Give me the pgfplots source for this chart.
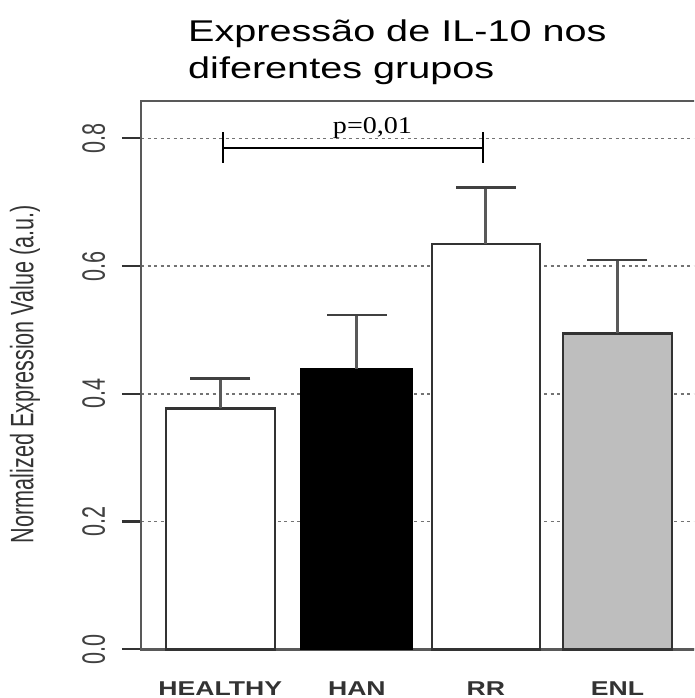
\documentclass[border=0pt]{standalone}
\usepackage{pgfplots}
\pgfplotsset{compat=1.18}
\usepackage{fontspec}
\setmainfont{Liberation Sans}
\newfontfamily\timesf{Liberation Serif}
\definecolor{barGray}{RGB}{190,190,190}
\begin{document}
\begin{tikzpicture}
\path[use as bounding box] (0pt,0pt) rectangle (694pt,698pt);
\clip (0pt,0pt) rectangle (694pt,698pt);
\node[anchor=base west, inner sep=0] at (188pt,656.3pt) {\fontsize{30}{36}\selectfont\scalebox{1.32}[1]{Expressão de IL-10 nos}};
\node[anchor=base west, inner sep=0] at (188pt,619.7pt) {\fontsize{30}{36}\selectfont\scalebox{1.32}[1]{diferentes grupos}};
\begin{axis}[
  scale only axis, width=574pt, height=548.3pt,
  at={(141pt,48.7pt)}, anchor=south west,
  xmin=141, xmax=715, ymin=0, ymax=0.8585,
  clip=false,
  axis line style={line width=2.5pt, draw=black!65},
  tick pos=left, tick align=outside, major tick length=19pt,
  ytick={0,0.2,0.4,0.6,0.8},
  yticklabels={\scalebox{1}[1.5]{0.0},\scalebox{1}[1.5]{0.2},\scalebox{1}[1.5]{0.4},\scalebox{1}[1.5]{0.6},\scalebox{1}[1.5]{0.8}},
  ytick style={solid, line width=2.2pt, draw=black!80},
  yticklabel style={xshift=-17pt, rotate=90, anchor=base, inner sep=0pt, font=\fontsize{21.6}{26}\selectfont, text=black!75},
  xtick={220.3,356.9,485.9,617.4},
  xticklabels={\scalebox{1.33}[1]{HEALTHY},\scalebox{1.33}[1]{HAN},\scalebox{1.33}[1]{RR},\scalebox{1.33}[1]{ENL}},
  xtick style={draw=none},
  xticklabel style={anchor=base, inner sep=0pt, yshift=-26.7pt, font=\fontsize{20}{24}\selectfont\bfseries, text=black!80},
  ymajorgrids,
  major grid style={dash pattern=on 3pt off 3.5pt, line width=1.7pt, draw=black!55},
  ylabel={\scalebox{1}[1.5]{Normalized Expression Value (a.u.)}},
  ylabel style={at={(axis description cs:-0.2021,0.502)}, anchor=center, font=\fontsize{21.6}{26}\selectfont, text=black!80},
]
\addplot[ybar, bar width=109, bar shift=0pt, fill=white, draw=black!80, line width=2.5pt,
  error bars/.cd, y dir=plus, y explicit, error mark=none, error bar style={line width=3pt, draw=black!65}]
  coordinates {(220.3,0.3773) +- (0,0.047)};
\addplot[ybar, bar width=112, bar shift=0pt, fill=black, draw=black, line width=1pt,
  error bars/.cd, y dir=plus, y explicit, error mark=none, error bar style={line width=3pt, draw=black!65}]
  coordinates {(356.9,0.4389) +- (0,0.0845)};
\addplot[ybar, bar width=108, bar shift=0pt, fill=white, draw=black!80, line width=2.5pt,
  error bars/.cd, y dir=plus, y explicit, error mark=none, error bar style={line width=3pt, draw=black!65}]
  coordinates {(485.9,0.6346) +- (0,0.0887)};
\addplot[ybar, bar width=108.7, bar shift=0pt, fill=barGray, draw=black!80, line width=2.5pt,
  error bars/.cd, y dir=plus, y explicit, error mark=none, error bar style={line width=3pt, draw=black!65}]
  coordinates {(617.4,0.4948) +- (0,0.1147)};
\addplot[only marks, mark=-, mark size=30pt, mark options={solid, line width=2.5pt, draw=black!75}]
  coordinates {(220.3,0.4243) (356.9,0.5234) (485.9,0.7233) (617.4,0.6095)};
\addplot[black, line width=1.6pt, forget plot] coordinates {(222.7,0.7853) (482.7,0.7853)};
\addplot[black, line width=1.6pt, forget plot] coordinates {(222.7,0.8094) (222.7,0.7608)};
\addplot[black, line width=1.6pt, forget plot] coordinates {(482.7,0.8094) (482.7,0.7608)};
\node[anchor=base, inner sep=0pt, font=\timesf\fontsize{24}{28}\selectfont] at (axis cs:372.5,0.8079) {\scalebox{1.17}[1]{p=0,01}};
\end{axis}
\end{tikzpicture}
\end{document}
